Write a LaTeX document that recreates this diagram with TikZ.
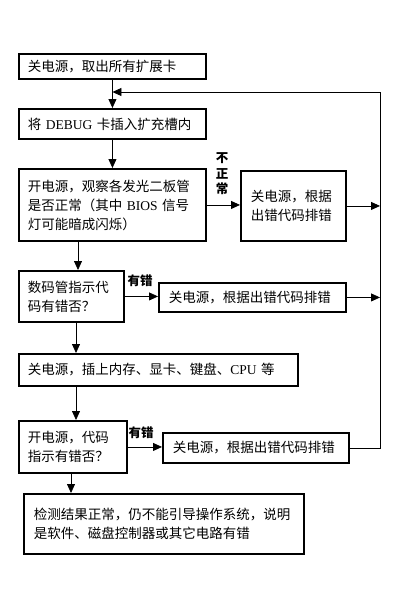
\documentclass[tikz,border=0pt]{standalone}
\usepackage{fontspec}
\setmainfont{Noto Sans CJK SC}
\newfontfamily\latin{Liberation Serif}
\usetikzlibrary{arrows.meta}

\begin{document}
\begin{tikzpicture}[x=1pt, y=-1pt, every node/.style={anchor=north west, draw=black, line width=1.9pt, inner xsep=9pt, inner ysep=0pt, align=left, font=\fontsize{13.5}{19}\selectfont}, every edge/.style={draw=black, line width=0.8pt, -{Triangle[length=9pt, width=8pt]}}]
				\useasboundingbox (0,0) rectangle (400,600);
				
				\node[text width=169pt, minimum height=25pt] (off1) at (18,53){关电源，取出所有扩展卡};
				\node[text width=169pt, minimum height=30pt] (debug) at (18,108){将 {\latin DEBUG} 卡插入扩充槽内};
				\node[text width=169pt, minimum height=72pt] (power1) at (18,168){开电源，观察各发光二板管\\是否正常（其中 {\latin BIOS} 信号\\灯可能暗成闪烁）};
				\node[inner xsep=10pt, text width=85pt, minimum height=70pt] (fix1) at (240,170){关电源，根据\\出错代码排错};
				
				\node[text width=87pt, minimum height=51pt] (code1) at (18,270){数码管指示代\\码有错否？};
				\node[inner xsep=10pt, text width=167pt, minimum height=29pt] (fix2) at (158,282){关电源，根据出错代码排错};
				
				\node[text width=261pt, minimum height=32pt] (plug) at (18,353){关电源，插上内存、显卡、键盘、{\latin CPU} 等};
				
				\node[text width=90pt, minimum height=52pt] (code2) at (18,420){开电源，代码\\指示有错否？};
				\node[inner xsep=10pt, text width=166pt, minimum height=30pt] (fix3) at (162,432){关电源，根据出错代码排错};
				
				\node[inner xsep=10pt, text width=260pt, minimum height=60pt] (result) at (23,493){检测结果正常，仍不能引导操作系统，说明\\是软件、磁盘控制器或其它电路有错};
				
				\node[draw=none, anchor=center, inner sep=0pt, align=center, font=\fontsize{12.5}{15.5}\selectfont\bfseries] (bad) at (222,174){不\\正\\常};
				\node[draw=none, anchor=center, inner sep=0pt, font=\fontsize{12.5}{15}\selectfont\bfseries] (err1) at (140,281){有错};
				\node[draw=none, anchor=center, inner sep=0pt, font=\fontsize{12.5}{15}\selectfont\bfseries] (err2) at (141,433){有错};
				
				\coordinate (bus) at (380,92);
				
				\path (off1) edge (debug);
				\path (debug) edge (power1);
				\path (power1.east) edge (power1.east -| fix1.west);
				\path (fix1.east) edge (fix1.east -| bus);
				\path (power1.south -| 78,0) edge (code1.north -| 78,0);
				\path (code1.east) edge (code1.east -| fix2.west);
				\path (fix2.east) edge (fix2.east -| bus);
				\path (code1.south -| 76,0) edge (plug.north -| 76,0);
				\path (plug.south -| 76,0) edge (code2.north -| 76,0);
				\path (code2.east) edge (code2.east -| fix3.west);
				\path (code2.south -| 71,0) edge (result.north -| 71,0);
				
				\draw[line width=0.8pt, -{Triangle[length=9pt, width=8pt]}] (fix3.east) -| (bus) -- (off1.south |- bus);
				\end{tikzpicture}
\end{document}
